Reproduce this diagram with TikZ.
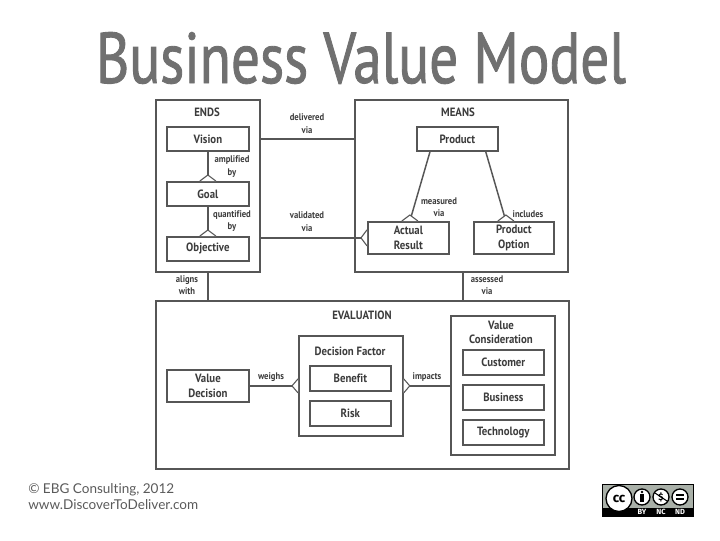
\documentclass[tikz,border=0pt]{standalone}
\usepackage{fontspec}
\usetikzlibrary{calc}
\setmainfont{Fira Sans}
\newfontfamily\footfont[Ligatures=NoCommon]{Lato}
\newfontfamily\dinfont[FakeStretch=0.9,Ligatures=NoCommon]{PT Sans}
\newfontfamily\titlefont[FakeStretch=0.795,FakeBold=1.2,Ligatures=NoCommon]{PT Sans}
\definecolor{ink}{HTML}{3C3C3C}
\definecolor{edge}{HTML}{565656}
\definecolor{titlegray}{HTML}{707070}
\definecolor{footgray}{HTML}{5A5A5A}
\definecolor{ccgray}{HTML}{A9B0A8}
\tikzset{
  frame/.style={draw=edge,line width=1.3pt,fill=white,inner sep=0pt,anchor=north west},
  entity/.style={frame,align=center,text=ink,font=\dinfont\bfseries\fontsize{9}{11}\selectfont},
  heading/.style={text=ink,inner sep=0pt,align=center,font=\dinfont\bfseries\fontsize{9}{11}\selectfont},
  rel/.style={text=ink,inner sep=0pt,align=center,font=\dinfont\fontsize{7.2}{9.4}\selectfont\bfseries},
  link/.style={draw=edge,line width=1.1pt},
  foot/.style={draw=edge,line width=0.8pt,fill=white},
  ccdisc/.style={circle,draw=black,line width=1pt,fill=white,inner sep=0pt,text=black},
  cctext/.style={text=white,inner sep=0pt,font=\bfseries\fontsize{5.6}{6}\selectfont}
}
\newcommand{\boxat}[6]{\node[#1,minimum width=#4*0.75pt,minimum height=#5*0.75pt] (#2) at #3 {#6};}
\begin{document}
\begin{tikzpicture}[x=0.75pt,y=-0.75pt]
\useasboundingbox (0,0) rectangle (720,540);
\node[text=titlegray,inner sep=0pt,font=\titlefont\fontsize{54}{58}\selectfont] (title) at (361,58) {Business Value Model};

\boxat{frame}{ENDS}{(155,99)}{104}{172}{}
\boxat{frame}{MEANS}{(354,99)}{213}{172}{}
\boxat{frame}{EVAL}{(155,300)}{413}{168}{}
\boxat{frame}{DF}{(298,335)}{104}{100}{}
\boxat{frame}{VC}{(450,315)}{104}{139}{}

\boxat{entity}{Vision}{(166,126)}{82}{24}{Vision}
\boxat{entity}{Goal}{(166,181)}{82}{24}{Goal}
\boxat{entity}{Objective}{(166,236)}{82}{24}{Objective}
\boxat{entity}{Product}{(416,126)}{81}{24}{Product}
\boxat{entity}{Actual}{(367,221)}{81}{32}{Actual\\Result}
\boxat{entity}{Option}{(473,221)}{80}{32}{Product\\Option}
\boxat{entity}{VD}{(166,369)}{82}{32}{Value\\Decision}
\boxat{entity}{Benefit}{(309,365)}{81}{25}{Benefit}
\boxat{entity}{Risk}{(309,400)}{81}{25}{Risk}
\boxat{entity}{Customer}{(462,349)}{81}{25}{Customer}
\boxat{entity}{Business}{(462,384)}{81}{25}{Business}
\boxat{entity}{Tech}{(462,419)}{81}{25}{Technology}

\node[heading] (hEnds) at (207,112) {ENDS};
\node[heading] (hMeans) at (458,112) {MEANS};
\node[heading] (hEval) at (362,315) {EVALUATION};
\node[heading] (hDF) at (350,351) {Decision Factor};
\node[heading] (hVC) at (501,332.5) {Value\\Consideration};

\node[rel] (lDel) at (307,123.5) {delivered\\via};
\node[rel] (lVal) at (307,221.5) {validated\\via};
\node[rel] (lAmp) at (232,166.5) {amplified\\by};
\node[rel] (lQua) at (232,221) {quantified\\by};
\node[rel] (lAli) at (187,285) {aligns\\with};
\node[rel] (lAss) at (487,285) {assessed\\via};
\node[rel] (lMea) at (439,207) {measured\\via};
\node[rel] (lInc) at (528,214) {includes};
\node[rel] (lWei) at (271,377) {weighs};
\node[rel] (lImp) at (427,377) {impacts};

\draw[link] (Vision.south) -- (Goal.north);
\draw[link] (Goal.south) -- (Objective.north);
\draw[link] (Vision.east -| ENDS.east) -- (Vision.east -| MEANS.west);
\draw[link] (Actual.west -| ENDS.east) -- (Actual.west);
\draw[link] (ENDS.south) -- (ENDS.south |- EVAL.north);
\draw[link] ($(MEANS.south)+(1.5,0)$) -- ($(MEANS.south |- EVAL.north)+(1.5,0)$);
\draw[link] ($(Product.south west)+(14,0)$) -- ($(Actual.north)+(1.5,0)$);
\draw[link] ($(Product.south east)+(-13,0)$) -- ($(Option.north)+(-8,0)$);
\draw[link] (VD.east) -- (DF.west);
\draw[link] (DF.east) -- (DF.east -| VC.west);

% crow's feet
\draw[foot] ($(Goal.north)+(-8,0)$) -- ($(Goal.north)+(0,-6)$) -- ($(Goal.north)+(8,0)$);
\draw[foot] ($(Objective.north)+(-8,0)$) -- ($(Objective.north)+(0,-6)$) -- ($(Objective.north)+(8,0)$);
\draw[foot] ($(Actual.north)+(-6.5,0)$) -- ($(Actual.north)+(1.5,-6)$) -- ($(Actual.north)+(9.5,0)$);
\draw[foot] ($(Option.north)+(-16,0)$) -- ($(Option.north)+(-8,-6)$) -- ($(Option.north)+(0,0)$);
\draw[foot] ($(Actual.west)+(0,-8)$) -- ($(Actual.west)+(-6,0)$) -- ($(Actual.west)+(0,8)$);
\draw[foot] ($(DF.west)+(0,-7)$) -- ($(DF.west)+(-6,0)$) -- ($(DF.west)+(0,7)$);
\draw[foot] ($(DF.east)+(0,-7)$) -- ($(DF.east)+(6,0)$) -- ($(DF.east)+(0,7)$);

\node[anchor=west,inner sep=0pt,text=footgray,align=left,font=\footfont\fontsize{10.15}{12}\selectfont] (foot) at (28,497) {© EBG Consulting, 2012\\www.DiscoverToDeliver.com};

% licence badge
\node[fill=ccgray,draw=black,line width=0.5pt,minimum width=91*0.75pt,minimum height=32*0.75pt,inner sep=0pt,anchor=north west] (badge) at (602,484) {};
\fill[black] (badge.south west) rectangle ($(badge.south east)+(0,-9)$);
\node[ccdisc,minimum size=26*0.75pt,font=\bfseries\fontsize{10}{10}\selectfont] (cc) at (619,498.5) {cc};
\node[ccdisc,minimum size=16*0.75pt] (by) at (642,497) {};
\node[ccdisc,minimum size=16*0.75pt] (nc) at (661,497) {};
\node[ccdisc,minimum size=16*0.75pt] (nd) at (680,497) {};
\fill[black] ($(by)+(0,-5)$) circle (1.3);
\fill[black] ($(by)+(-2.2,-3)$) rectangle ($(by)+(2.2,4.5)$);
\node[inner sep=0pt,text=black,font=\bfseries\fontsize{7}{7}\selectfont] (ncs) at (nc) {\$};
\draw[black,line width=0.8pt] ($(nc)+(-6,-4)$) -- ($(nc)+(6,4)$);
\fill[black] ($(nd)+(-4,-3)$) rectangle ($(nd)+(4,-0.8)$);
\fill[black] ($(nd)+(-4,0.8)$) rectangle ($(nd)+(4,3)$);
\node[cctext] (tBy) at (642,511.5) {BY};
\node[cctext] (tNc) at (661,511.5) {NC};
\node[cctext] (tNd) at (680,511.5) {ND};
\end{tikzpicture}
\end{document}
